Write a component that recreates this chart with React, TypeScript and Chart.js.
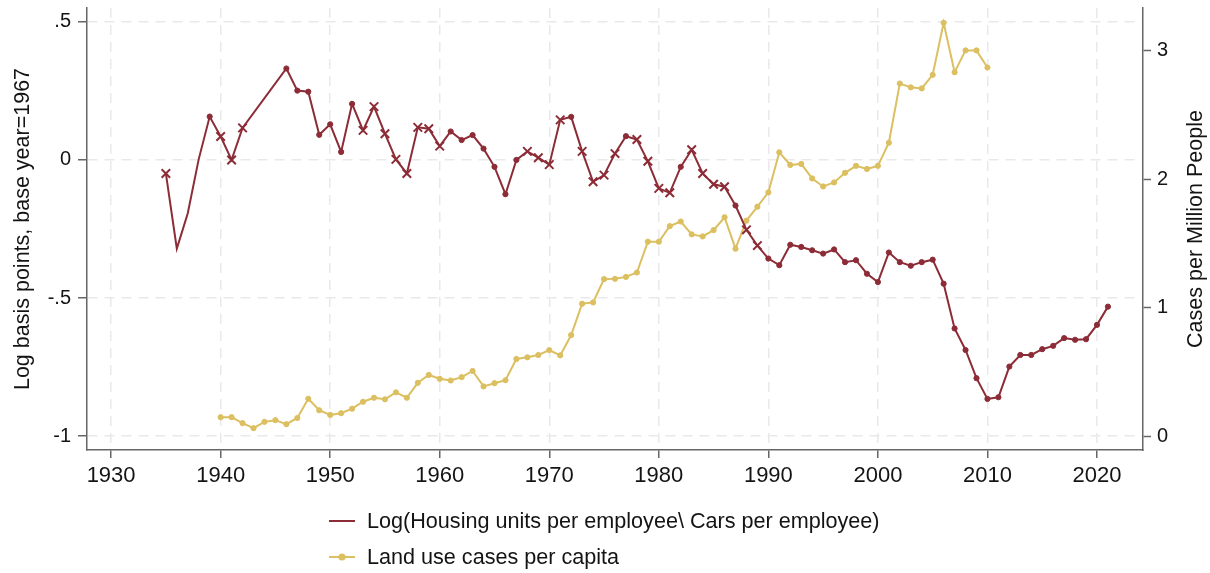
import React, { useEffect, useRef } from 'react';
import { Chart, registerables } from 'chart.js';

Chart.register(...registerables);

// ---------- data ----------
const redYears = [
  1935, 1936, 1937, 1938, 1939, 1940, 1941, 1942,
  1946, 1947, 1948, 1949, 1950, 1951, 1952, 1953, 1954, 1955, 1956, 1957, 1958, 1959,
  1960, 1961, 1962, 1963, 1964, 1965, 1966, 1967, 1968, 1969,
  1970, 1971, 1972, 1973, 1974, 1975, 1976, 1977, 1978, 1979,
  1980, 1981, 1982, 1983, 1984, 1985, 1986, 1987, 1988, 1989,
  1990, 1991, 1992, 1993, 1994, 1995, 1996, 1997, 1998, 1999,
  2000, 2001, 2002, 2003, 2004, 2005, 2006, 2007, 2008, 2009,
  2010, 2011, 2012, 2013, 2014, 2015, 2016, 2017, 2018, 2019,
  2020, 2021,
];
const redValues = [
  -0.049, -0.321, -0.193, 0.003, 0.157, 0.085, 0.0, 0.116,
  0.331, 0.251, 0.247, 0.091, 0.129, 0.029, 0.203, 0.107, 0.193, 0.095, 0.002, -0.049, 0.118, 0.113,
  0.05, 0.103, 0.072, 0.09, 0.041, -0.025, -0.124, 0.0, 0.031, 0.008,
  -0.017, 0.145, 0.156, 0.031, -0.079, -0.055, 0.023, 0.086, 0.074, -0.005,
  -0.103, -0.119, -0.025, 0.037, -0.049, -0.088, -0.097, -0.165, -0.253, -0.31,
  -0.357, -0.381, -0.307, -0.315, -0.327, -0.339, -0.324, -0.37, -0.363, -0.412,
  -0.442, -0.335, -0.37, -0.383, -0.37, -0.361, -0.448, -0.61, -0.688, -0.79,
  -0.865, -0.859, -0.748, -0.706, -0.706, -0.685, -0.673, -0.645, -0.651, -0.649,
  -0.597, -0.531,
];
// x = cross marker, d = dot marker, n = no marker
const redMarkers = [
  'x', 'n', 'n', 'n', 'd', 'x', 'x', 'x',
  'd', 'd', 'd', 'd', 'd', 'd', 'd', 'x', 'x', 'x', 'x', 'x', 'x', 'x',
  'x', 'd', 'd', 'd', 'd', 'd', 'd', 'd', 'x', 'x',
  'x', 'x', 'd', 'x', 'x', 'x', 'x', 'd', 'x', 'x',
  'x', 'x', 'd', 'x', 'x', 'x', 'x', 'd', 'x', 'x',
  'd', 'd', 'd', 'd', 'd', 'd', 'd', 'd', 'd', 'd',
  'd', 'd', 'd', 'd', 'd', 'd', 'd', 'd', 'd', 'd',
  'd', 'd', 'd', 'd', 'd', 'd', 'd', 'd', 'd', 'd',
  'd', 'd',
];

const landYears = [
  1940, 1941, 1942, 1943, 1944, 1945, 1946, 1947, 1948, 1949,
  1950, 1951, 1952, 1953, 1954, 1955, 1956, 1957, 1958, 1959,
  1960, 1961, 1962, 1963, 1964, 1965, 1966, 1967, 1968, 1969,
  1970, 1971, 1972, 1973, 1974, 1975, 1976, 1977, 1978, 1979,
  1980, 1981, 1982, 1983, 1984, 1985, 1986, 1987, 1988, 1989,
  1990, 1991, 1992, 1993, 1994, 1995, 1996, 1997, 1998, 1999,
  2000, 2001, 2002, 2003, 2004, 2005, 2006, 2007, 2008, 2009,
  2010,
];
const landValues = [
  0.152, 0.152, 0.106, 0.067, 0.116, 0.129, 0.098, 0.146, 0.295, 0.206,
  0.17, 0.183, 0.218, 0.272, 0.303, 0.291, 0.345, 0.303, 0.419, 0.48,
  0.45, 0.437, 0.463, 0.511, 0.391, 0.416, 0.439, 0.604, 0.617, 0.635,
  0.673, 0.632, 0.79, 1.033, 1.043, 1.224, 1.226, 1.241, 1.275, 1.514,
  1.514, 1.635, 1.671, 1.571, 1.555, 1.604, 1.704, 1.46, 1.678, 1.786,
  1.897, 2.208, 2.11, 2.118, 2.005, 1.943, 1.974, 2.049, 2.103, 2.079,
  2.103, 2.282, 2.742, 2.712, 2.704, 2.809, 3.213, 2.83, 2.999, 2.999,
  2.866,
];

const xTicks = [1930, 1940, 1950, 1960, 1970, 1980, 1990, 2000, 2010, 2020];
const leftTicks = [-1, -0.5, 0, 0.5];
const leftTickLabels = ['-1', '-.5', '0', '.5'];
const rightTicks = [0, 1, 2, 3];
const rightTickLabels = ['0', '1', '2', '3'];

const leftTitle = 'Log basis points, base year=1967';
const rightTitle = 'Cases per Million People';
const redLabel = 'Log(Housing units per employee\\ Cars per employee)';
const landLabel = 'Land use cases per capita';

// ---------- styles ----------
const FONT = '"Liberation Sans", Arial, Helvetica, sans-serif';
const RED = '#8c2c37';
const SAND = '#dbbf60';
const AXIS = '#666666';
const GRID = '#e9e9e9';
const TEXT = '#141414';

const decorPlugin = {
  id: 'decor',
  afterDraw(chart: any) {
    const ctx = chart.ctx as CanvasRenderingContext2D;
    const area = chart.chartArea;
    const cy = (area.top + area.bottom) / 2;
    ctx.save();
    ctx.fillStyle = TEXT;
    ctx.font = `21.5px ${FONT}`;
    ctx.textAlign = 'center';
    ctx.textBaseline = 'middle';
    ctx.save();
    ctx.translate(23, cy);
    ctx.rotate(-Math.PI / 2);
    ctx.fillText(leftTitle, 0, 0);
    ctx.restore();
    ctx.save();
    ctx.translate(1196, cy);
    ctx.rotate(-Math.PI / 2);
    ctx.fillText(rightTitle, 0, 0);
    ctx.restore();

    // legend
    ctx.font = `21.6px ${FONT}`;
    const rows = [
      { y: 521, color: RED, text: chart.data.datasets[0].label, dot: false },
      { y: 557, color: SAND, text: chart.data.datasets[1].label, dot: true },
    ];
    ctx.textAlign = 'left';
    rows.forEach((r) => {
      ctx.strokeStyle = r.color;
      ctx.lineWidth = 2;
      ctx.beginPath();
      ctx.moveTo(329, r.y);
      ctx.lineTo(355, r.y);
      ctx.stroke();
      if (r.dot) {
        ctx.fillStyle = r.color;
        ctx.beginPath();
        ctx.arc(342, r.y, 3.6, 0, Math.PI * 2);
        ctx.fill();
      }
      ctx.fillStyle = TEXT;
      ctx.fillText(r.text, 367, r.y + 1);
    });
    ctx.restore();
  },
};

export default function App() {
  const ref = useRef<HTMLCanvasElement | null>(null);

  useEffect(() => {
    if (!ref.current) return;
    Chart.defaults.font.family = FONT;

    const chart = new Chart(ref.current, {
      type: 'line',
      data: {
        datasets: [
          {
            label: redLabel,
            data: redYears.map((x, i) => ({ x, y: redValues[i] })),
            yAxisID: 'y',
            borderColor: RED,
            backgroundColor: RED,
            borderWidth: 2,
            tension: 0,
            pointStyle: redMarkers.map((m) => (m === 'x' ? 'crossRot' : 'circle')) as any,
            pointRadius: redMarkers.map((m) => (m === 'x' ? 6 : m === 'd' ? 2.6 : 0)),
            pointBorderWidth: redMarkers.map((m) => (m === 'x' ? 2 : 1)),
            pointBorderColor: RED,
            pointBackgroundColor: RED,
            fill: false,
          },
          {
            label: landLabel,
            data: landYears.map((x, i) => ({ x, y: landValues[i] })),
            yAxisID: 'y1',
            borderColor: SAND,
            backgroundColor: SAND,
            borderWidth: 2,
            tension: 0,
            pointStyle: 'circle',
            pointRadius: 2.6,
            pointBorderWidth: 1,
            pointBorderColor: SAND,
            pointBackgroundColor: SAND,
            fill: false,
          },
        ],
      },
      options: {
        responsive: false,
        animation: false,
        devicePixelRatio: 1,
        layout: { padding: { top: 5, left: 0, right: 0, bottom: 0 } },
        plugins: {
          legend: { display: false },
          tooltip: { enabled: false },
        },
        scales: {
          x: {
            type: 'linear',
            position: 'bottom',
            min: 1927.8,
            max: 2024.2,
            afterBuildTicks: (s: any) => {
              s.ticks = xTicks.map((v) => ({ value: v }));
            },
            afterFit: (s: any) => {
              s.height = 123;
              s.paddingLeft = 0;
              s.paddingRight = 0;
            },
            ticks: {
              color: TEXT,
              font: { size: 22 },
              padding: 5,
              maxRotation: 0,
              autoSkip: false,
              callback: (v: any) => String(v),
            },
            grid: {
              color: GRID,
              lineWidth: 1.5,
              drawTicks: true,
              tickLength: 8,
              tickColor: AXIS,
              tickWidth: 1.5,
              tickBorderDash: [],
            },
            border: { display: true, color: AXIS, width: 1.5, dash: [10, 7] },
          },
          y: {
            type: 'linear',
            position: 'left',
            min: -1.05,
            max: 0.55,
            afterBuildTicks: (s: any) => {
              s.ticks = leftTicks.map((v) => ({ value: v }));
            },
            afterFit: (s: any) => {
              s.width = 87;
              s.paddingTop = 0;
              s.paddingBottom = 0;
            },
            ticks: {
              color: TEXT,
              font: { size: 20 },
              padding: 7,
              autoSkip: false,
              callback: (v: any) => {
                const i = leftTicks.indexOf(Number(v));
                return i >= 0 ? leftTickLabels[i] : '';
              },
            },
            grid: {
              color: GRID,
              lineWidth: 1.5,
              drawTicks: true,
              tickLength: 9,
              tickColor: AXIS,
              tickWidth: 1.5,
              tickBorderDash: [],
            },
            border: { display: true, color: AXIS, width: 1.5, dash: [10, 7] },
          },
          y1: {
            type: 'linear',
            position: 'right',
            min: -0.1025,
            max: 3.328,
            afterBuildTicks: (s: any) => {
              s.ticks = rightTicks.map((v) => ({ value: v }));
            },
            afterFit: (s: any) => {
              s.width = 67;
              s.paddingTop = 0;
              s.paddingBottom = 0;
            },
            ticks: {
              color: TEXT,
              font: { size: 20 },
              padding: 6,
              autoSkip: false,
              callback: (v: any) => {
                const i = rightTicks.indexOf(Number(v));
                return i >= 0 ? rightTickLabels[i] : '';
              },
            },
            grid: {
              drawOnChartArea: false,
              drawTicks: true,
              tickLength: 8,
              tickColor: AXIS,
              tickWidth: 1.5,
              tickBorderDash: [],
            },
            border: { display: true, color: AXIS, width: 1.5 },
          },
        },
      } as any,
      plugins: [decorPlugin],
    });

    return () => chart.destroy();
  }, []);

  return (
    <div style={{ position: 'absolute', left: 0, top: 0, width: 1210, height: 573, background: '#fff' }}>
      <canvas ref={ref} width={1210} height={573} style={{ width: 1210, height: 573, display: 'block' }} />
    </div>
  );
}
